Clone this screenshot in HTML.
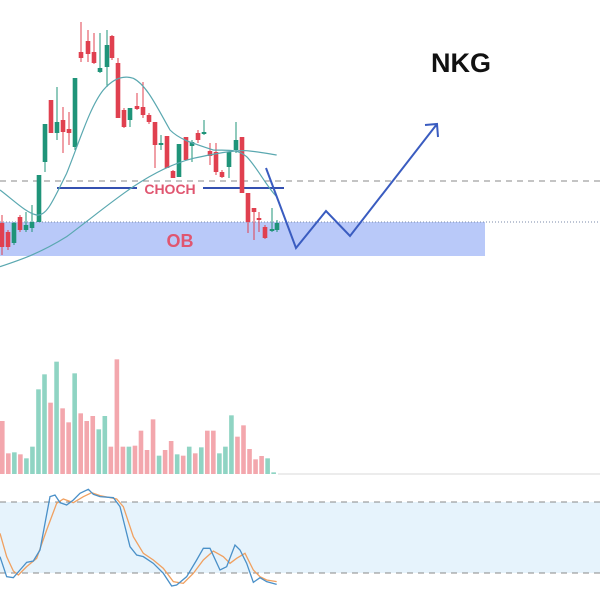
<!DOCTYPE html>
<html><head><meta charset="utf-8"><style>
html,body{margin:0;padding:0;background:#fff;width:600px;height:600px;overflow:hidden}
svg{display:block}
</style></head><body>
<svg id="s" width="600" height="600" viewBox="0 0 600 600" xmlns="http://www.w3.org/2000/svg">
<rect width="600" height="600" fill="#fff"/>
<rect x="0" y="222" width="485" height="34" fill="#b9c9f9"/>
<line x1="0" y1="181" x2="600" y2="181" stroke="#8a8a8a" stroke-dasharray="6,5" stroke-width="1"/>
<line x1="0" y1="222" x2="600" y2="222" stroke="#7a8aa8" stroke-dasharray="1,2" stroke-width="1"/>
<line x1="57" y1="188" x2="137" y2="188" stroke="#3450b0" stroke-width="2"/>
<line x1="203" y1="188" x2="284" y2="188" stroke="#3450b0" stroke-width="2"/>
<text x="170" y="194" font-family="Liberation Sans, sans-serif" font-weight="bold" font-size="14" fill="#e05670" text-anchor="middle">CHOCH</text>
<text x="180" y="247" font-family="Liberation Sans, sans-serif" font-weight="bold" font-size="18" fill="#e05670" text-anchor="middle">OB</text>
<g id="cd"></g>
<g transform="scale(0.33333)" fill="none" stroke-width="1.2">
<path vector-effect="non-scaling-stroke" stroke="#5aa8b0" d="M0,570 C40,600 80,640 110,645 C140,650 160,600 200,520 C240,420 270,320 310,270 C340,235 370,225 400,235 C440,255 470,320 510,390 C540,420 580,430 640,450 C680,452 710,445 740,470 C770,500 800,560 830,590"/>
<path vector-effect="non-scaling-stroke" stroke="#5aa8b0" d="M0,800 C60,780 120,760 200,710 C280,650 340,600 400,560 C460,520 520,490 580,475 C640,462 700,450 740,452 C780,456 810,462 830,465"/>
</g>
<path d="M266,168 L296,248 L326,211 L350,236 L437,124 M425,125 L437,124 L438,137" fill="none" stroke="#3a5cc0" stroke-width="2"/>
<text x="461" y="72" font-family="Liberation Sans, sans-serif" font-weight="bold" font-size="27" fill="#111" text-anchor="middle">NKG</text>
<g id="vol"></g>
<line x1="278" y1="474" x2="600" y2="474" stroke="#d8d8d8" stroke-width="1"/>
<rect x="0" y="502" width="600" height="71" fill="#e6f3fc"/>
<line x1="0" y1="502" x2="600" y2="502" stroke="#888" stroke-dasharray="6,5"/>
<line x1="0" y1="573" x2="600" y2="573" stroke="#888" stroke-dasharray="6,5"/>
<g transform="translate(0,350) scale(0.33333)" fill="none">
<polyline vector-effect="non-scaling-stroke" stroke-width="1.3" stroke="#f0a060" points="0,550 20,620 40,663 55,675 80,650 110,625 140,540 170,460 190,447 220,458 250,440 275,428 300,437 330,443 350,447 370,470 400,560 430,610 460,630 490,655 520,695 550,700 580,670 610,630 640,603 670,620 690,640 710,625 735,610 760,660 780,680 800,690 830,695"/>
<polyline vector-effect="non-scaling-stroke" stroke-width="1.3" stroke="#4a90c8" points="0,620 20,680 40,683 60,660 80,637 100,633 120,600 150,440 165,435 180,458 200,465 220,450 240,430 265,418 280,433 300,440 340,443 360,470 390,590 410,615 430,620 460,640 490,670 515,708 530,705 560,680 590,630 610,595 630,595 660,660 680,650 705,585 720,600 740,640 760,697 780,683 800,695 830,703"/>
</g>
</svg>
<script>
var NS="http://www.w3.org/2000/svg";
function el(p,t,a){var e=document.createElementNS(NS,t);for(var k in a)e.setAttribute(k,a[k]);p.appendChild(e);}
// x, bodyTop, bodyBot, wickTop, wickBot, green?
var C=[[2,223,247,215,255,0],[8,232,247,230,250,0],[14,223,243,222,245,1],[20,217,230,215,232,0],[26,225,230,212,232,1],[32,222,228,205,232,1],
[39,175,222,175,222,1],[45,124,162,124,172,1],[51,100,133,100,133,0],[57,122,133,87,140,1],[63,120,132,107,153,0],[69,129,133,112,145,0],
[75,78,147,78,150,1],[81,52,58,22,62,0],[88,41,54,30,62,0],[94,52,63,33,64,0],[100,68,72,33,73,1],[107,45,67,30,87,1],[112,36,58,35,60,0],
[118,63,118,58,118,0],[124,110,127,108,128,0],[130,108,120,108,127,1],[137,106,109,93,110,0],[143,107,115,82,118,0],[149,115,122,113,124,0],
[155,122,145,122,168,0],[161,143,145,135,150,1],[167,136,168,136,168,0],[173,171,178,170,178,0],[179,144,177,144,177,1],[186,137,160,137,160,0],
[192,142,146,140,162,1],[198,133,140,130,143,0],[204,132,134,120,135,1],[210,151,156,143,165,0],[216,152,172,143,175,0],[222,172,177,170,178,0],
[229,152,167,152,178,1],[236,140,150,122,153,1],[242,137,193,137,193,0],[248,193,222,193,233,0],[254,208,212,208,240,0],[259,218,220,212,232,0],
[265,227,238,225,239,0],[272,229,231,208,232,1],[277,223,230,220,232,1]];
var g=document.getElementById("cd");
C.forEach(function(c){var col=c[5]?"#1f9479":"#e0404f";
el(g,"line",{x1:c[0],x2:c[0],y1:c[3],y2:c[4],stroke:col,"stroke-width":1});
el(g,"rect",{x:c[0]-2.3,y:c[1],width:4.6,height:Math.max(1.5,c[2]-c[1]),fill:col});});
var V=[[213,0],[310,0],[307,1],[313,0],[325,1],[290,1],[118,1],[73,1],[158,0],[35,1],[175,0],[217,0],[70,1],[190,0],[213,0],[198,0],[238,1],[198,1],[290,0],[28,0],[290,0],[290,1],[287,0],[242,0],[300,0],[208,0],[317,1],[300,0],[273,0],[313,1],[317,0],[290,1],[310,0],[292,1],[242,0],[242,0],[310,1],[290,1],[196,1],[260,0],[226,0],[297,0],[328,0],[318,0],[325,1],[367,1]];
var vg=document.getElementById("vol");
V.forEach(function(v,i){var y=350+v[0]/3;el(vg,"rect",{x:i*6.03,y:y,width:4.6,height:474-y,fill:v[1]?"#8fd4c3":"#f3a7ad"});});
</script>
</body></html>
